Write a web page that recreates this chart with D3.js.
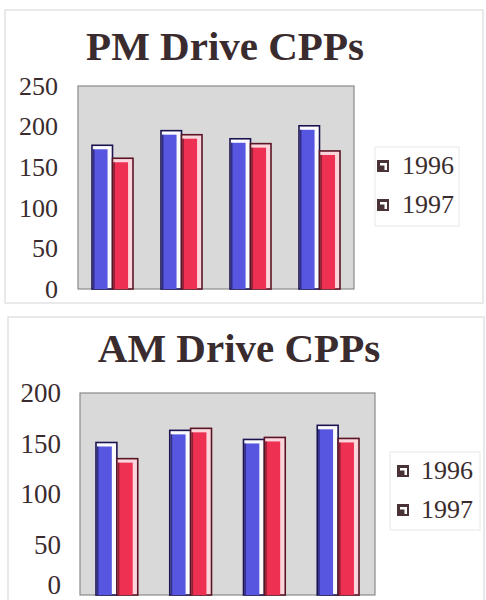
<!DOCTYPE html>
<html><head><meta charset="utf-8">
<script src="https://cdn.jsdelivr.net/npm/d3@7/dist/d3.min.js"></script>
<style>body{margin:0;background:#fff}svg{display:block}</style>
</head><body>
<svg id="c" width="486" height="600"></svg>
<script>
const categories = ["1", "2", "3", "4"];
const seriesNames = ["1996", "1997"];
const pmValues1996 = [177, 195, 185, 201];
const pmValues1997 = [161, 190, 179, 170];
const amValues1996 = [151, 163, 154, 168];
const amValues1997 = [135, 165, 156, 155];
const pmTicks = [0, 50, 100, 150, 200, 250];
const amTicks = [0, 50, 100, 150, 200];

const svg = d3.select("#c");
const textColor = "#3a2c2e";
const colors = {
  "1996": {face: "#5656e0", side: "#fbfbff", edge: "#1c1450"},
  "1997": {face: "#ee3152", side: "#fad6dc", edge: "#5a1424"}
};

function drawChart(cfg) {
  const g = svg.append("g");
  g.append("rect").attr("x", cfg.frame[0]).attr("y", cfg.frame[1])
    .attr("width", cfg.frame[2]).attr("height", cfg.frame[3])
    .attr("fill", "none").attr("stroke", "#e2e2e2").attr("stroke-width", 1.5);
  g.append("text").attr("x", cfg.titleX).attr("y", cfg.titleY)
    .attr("text-anchor", "middle").attr("font-family", "Liberation Serif, serif")
    .attr("font-weight", "bold").attr("font-size", 41).attr("fill", textColor)
    .text(cfg.title);

  const y = d3.scaleLinear().domain([0, cfg.max]).range([cfg.plot.bottom, cfg.plot.top]);
  const x0 = d3.scaleBand().domain(categories).range([cfg.plot.left, cfg.plot.right]).padding(0);
  const x1 = d3.scaleBand().domain(seriesNames)
    .range([cfg.groupPad, x0.bandwidth() - cfg.groupPad]).padding(0);

  g.append("rect").attr("x", cfg.plot.left).attr("y", cfg.plot.top)
    .attr("width", cfg.plot.right - cfg.plot.left).attr("height", cfg.plot.bottom - cfg.plot.top)
    .attr("fill", "#d9d9d9").attr("stroke", "#8a8a8a").attr("stroke-width", 1.2);

  const axis = d3.axisLeft(y).tickValues(cfg.ticks).tickSize(0).tickPadding(0);
  const ax = g.append("g").attr("transform", `translate(${cfg.labelRight},0)`).call(axis);
  ax.select(".domain").remove();
  ax.selectAll("text").attr("font-family", "Liberation Serif, serif")
    .attr("font-size", cfg.tickFont).attr("fill", textColor)
    .attr("dy", d => (d === 0 ? cfg.zeroDy : "0.32em"));

  const data = [];
  categories.forEach((c, i) => {
    data.push({c, s: "1996", v: cfg.v96[i]});
    data.push({c, s: "1997", v: cfg.v97[i]});
  });
  const bars = g.selectAll("g.bar").data(data).enter().append("g").attr("class", "bar")
    .attr("transform", d => `translate(${x0(d.c) + x1(d.s)},0)`);
  const w = x1.bandwidth();
  bars.append("rect").attr("x", 0).attr("y", d => y(d.v))
    .attr("width", w).attr("height", d => y(0) - y(d.v))
    .attr("fill", d => colors[d.s].side).attr("stroke", d => colors[d.s].edge).attr("stroke-width", 1.6);
  bars.append("rect").attr("x", 0.8).attr("y", d => y(d.v) + 4)
    .attr("width", w * 0.72).attr("height", d => y(0) - y(d.v) - 4)
    .attr("fill", d => colors[d.s].face);
  bars.append("rect").attr("x", 0.5).attr("y", d => y(d.v) + 4)
    .attr("width", 2).attr("height", d => y(0) - y(d.v) - 4)
    .attr("fill", d => colors[d.s].edge).attr("opacity", 0.6);

  const L = cfg.legend;
  g.append("rect").attr("x", L.x).attr("y", L.y).attr("width", L.w).attr("height", L.h)
    .attr("fill", "#fff").attr("stroke", "#ececec").attr("stroke-width", 1.2);
  seriesNames.forEach((s, i) => {
    const yy = L.firstBase + i * L.gap;
    g.append("rect").attr("x", L.markX).attr("y", yy - 14).attr("width", 12).attr("height", 12)
      .attr("fill", "#4a3336");
    g.append("path").attr("d", `M${L.markX + 3},${yy - 11} h7 v7 h-2.5 v-4.5 h-4.5 z`).attr("fill", "#fff");
    g.append("text").attr("x", L.textX).attr("y", yy)
      .attr("font-family", "Liberation Serif, serif").attr("font-size", L.font)
      .attr("fill", textColor).text(s);
  });
}

drawChart({
  title: "PM Drive CPPs", titleX: 225, titleY: 60,
  frame: [5, 10, 478, 293],
  plot: {left: 78, right: 354, top: 86, bottom: 289},
  max: 250, ticks: pmTicks, labelRight: 58, tickFont: 26, groupPad: 14, zeroDy: "0.32em",
  v96: pmValues1996, v97: pmValues1997,
  legend: {x: 375, y: 147, w: 84, h: 79, markX: 377, textX: 402, firstBase: 174, gap: 39, font: 26}
});

drawChart({
  title: "AM Drive CPPs", titleX: 239, titleY: 362,
  frame: [8, 317, 476, 290],
  plot: {left: 80, right: 375, top: 393, bottom: 595},
  max: 200, ticks: amTicks, labelRight: 61, tickFont: 27, groupPad: 16, zeroDy: "-0.06em",
  v96: amValues1996, v97: amValues1997,
  legend: {x: 390, y: 452, w: 90, h: 78, markX: 397, textX: 421, firstBase: 479, gap: 39, font: 26}
});
</script>
</body></html>
